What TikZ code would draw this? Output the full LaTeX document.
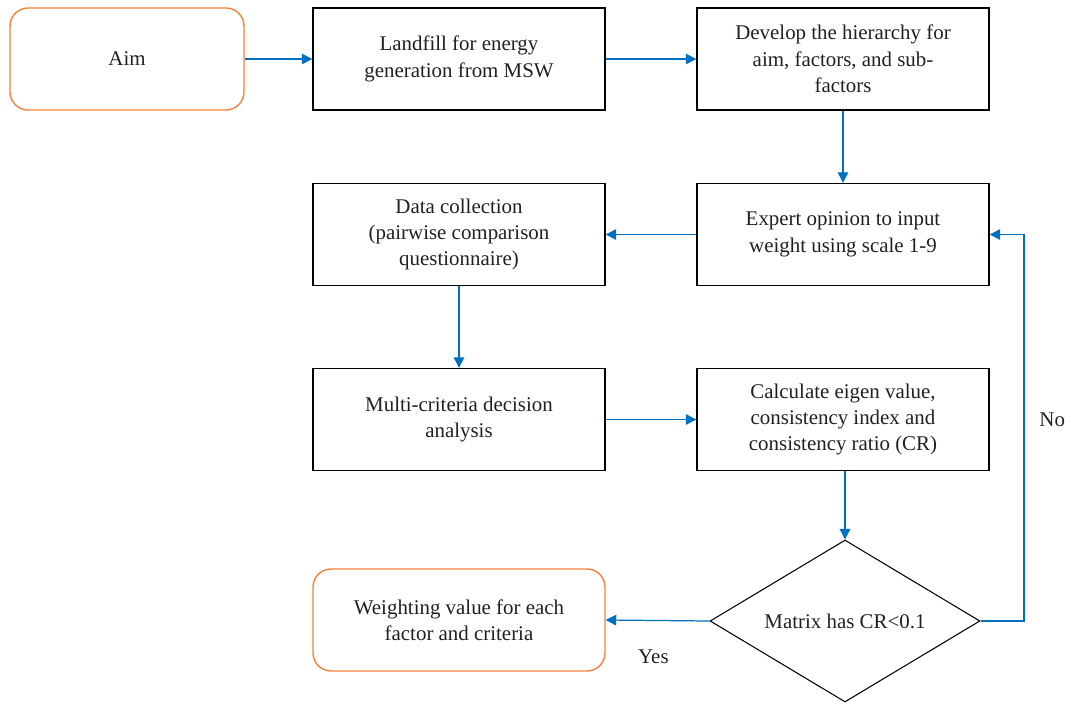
\documentclass[tikz,border=0pt]{standalone}
\usepackage{fontspec}
\setmainfont{Liberation Serif}
\usetikzlibrary{arrows.meta,shapes.geometric}
\definecolor{boxorange}{RGB}{240,132,60}
\definecolor{linkblue}{RGB}{0,112,192}
\definecolor{inkgray}{RGB}{35,31,32}
\tikzset{
  stepbox/.style={draw=black, line width=0.8pt, minimum width=5.84cm, minimum height=2.04cm,
    align=center, inner sep=0pt, text=inkgray,
    font=\fontsize{11.9}{15}\selectfont},
  endbox/.style={stepbox, draw=boxorange, rounded corners=0.36cm},
  choice/.style={diamond, aspect=1.67, draw=black, line width=0.6pt, minimum width=5.4cm, minimum height=3.24cm,
    inner sep=0pt, text=inkgray, font=\fontsize{11.9}{15}\selectfont},
  link/.style={draw=linkblue, line width=0.7pt, -{Triangle[length=6pt,width=6pt]}},
  tag/.style={text=inkgray, font=\fontsize{11.9}{15}\selectfont}
}
\begin{document}
\begin{tikzpicture}[x=0.02cm, y=-0.02cm]
	\useasboundingbox (0,0) rectangle (1071,703);

	% first row
	\node[endbox, minimum width=4.68cm] (aim) at (127,59) {Aim};
	\node[stepbox] (landfill) at (459,59) {Landfill for energy\\generation from MSW};
	\node[stepbox] (hierarchy) at (843,59) {Develop the hierarchy for\\aim, factors, and sub-\\factors};

	% second row
	\node[stepbox] (data) at (459,234.5) {Data collection\\(pairwise comparison\\questionnaire)};
	\node[stepbox] (expert) at (843,234.5) {Expert opinion to input\\weight using scale 1-9};

	% third row
	\node[stepbox] (mcda) at (459,419.5) {Multi-criteria decision\\analysis};
	\node[stepbox] (eigen) at (843,419.5) {Calculate eigen value,\\consistency index and\\consistency ratio (CR)};

	% decision
	\node[choice] (matrix) at (845,621) {Matrix has CR<0.1};
	\node[endbox] (weight) at (459,620) {Weighting value for each\\factor and criteria};

	\draw[link] (aim) -- (landfill);
	\draw[link] (landfill) -- (hierarchy);
	\draw[link] (hierarchy) -- (expert);
	\draw[link] (expert) -- (data);
	\draw[link] (data) -- (mcda);
	\draw[link] (mcda) -- (eigen);
	\draw[link] (eigen.south -| matrix.north) -- (matrix.north);
	\draw[link] (matrix.west) -- (weight.east) node[tag, pos=0.54, below=0.45cm] (yes) {Yes};
	\draw[link] (matrix.east) -- (1024,621) -- (1024,234.5) node[tag, pos=0.52, right=0.18cm] (no) {No} -- (expert.east);
\end{tikzpicture}
\end{document}
